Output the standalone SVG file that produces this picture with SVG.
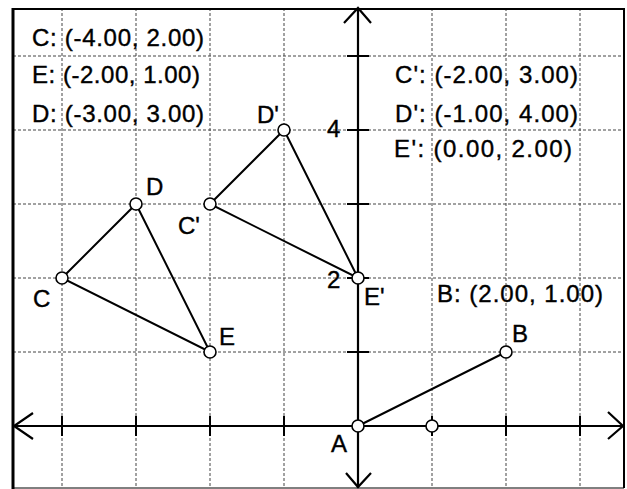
<svg xmlns="http://www.w3.org/2000/svg" width="627" height="489" viewBox="0 0 627 489">
<style>
.grid{stroke:#444;stroke-width:1;stroke-dasharray:3 2;fill:none}
.axis{stroke:#000;stroke-width:2.2;fill:none}
.tick{stroke:#000;stroke-width:2;fill:none}
.seg{stroke:#000;stroke-width:2;fill:none}
.pt{fill:#fff;stroke:#000;stroke-width:1.6}
text{font-family:"Liberation Sans",Arial,sans-serif;font-size:24px;fill:#000;stroke:#000;stroke-width:0.4}
</style>
<rect width="627" height="489" fill="#fff"/>
<g id="grid">
<path class="grid" d="M62 8V488M136 8V488M210 8V488M284 8V488M432 8V488M506 8V488M580 8V488"/>
<path class="grid" d="M13 56H624M13 130H624M13 204H624M13 278H624M13 352H624"/>
</g>
<g id="frame">
<path d="M13 9H624V488" stroke="#000" stroke-width="2" fill="none"/>
<path d="M13 488H624" stroke="#000" stroke-width="1" fill="none"/>
<path d="M13 8V489" stroke="#000" stroke-width="3" fill="none"/>
</g>
<g id="axes">
<path class="axis" d="M13 426H623M358 8V488"/>
<path class="axis" d="M33 413L14 426L33 439M608 412L623 426L608 439M344 23L358 8L371 23M346 473L358 487L371 473"/>
<path class="tick" d="M62 416V436M136 416V436M210 416V436M284 416V436M432 416V436M506 416V436M580 416V436"/>
<path class="tick" d="M347 56H369M347 130H369M347 204H369M347 278H369M347 352H369"/>
<text x="327" y="137">4</text>
<text x="327" y="288">2</text>
</g>
<g id="connectors">
<path class="seg" d="M62 278L136 204L210 352Z"/>
<path class="seg" d="M210 204L284 130L358 278Z"/>
<path class="seg" d="M358 426L506 352"/>
</g>
<g id="node-C"><circle class="pt" cx="62" cy="278" r="6"/><text x="33" y="307">C</text></g>
<g id="node-D"><circle class="pt" cx="136" cy="204" r="6"/><text x="146" y="195">D</text></g>
<g id="node-E"><circle class="pt" cx="210" cy="352" r="6"/><text x="219" y="345">E</text></g>
<g id="node-C2"><circle class="pt" cx="210" cy="204" r="6"/><text x="178" y="234">C'</text></g>
<g id="node-D2"><circle class="pt" cx="284" cy="130" r="6"/><text x="257" y="123">D'</text></g>
<g id="node-E2"><circle class="pt" cx="358" cy="278" r="6"/><text x="364" y="305">E'</text></g>
<g id="node-A"><circle class="pt" cx="358" cy="426" r="6"/><text x="331" y="452">A</text></g>
<g id="node-P"><circle class="pt" cx="432" cy="426" r="6"/></g>
<g id="node-B"><circle class="pt" cx="506" cy="352" r="6"/><text x="512" y="342">B</text></g>
<g id="labels">
<text x="32" y="46" textLength="172" lengthAdjust="spacing">C: (-4.00, 2.00)</text>
<text x="32" y="83" textLength="168" lengthAdjust="spacing">E: (-2.00, 1.00)</text>
<text x="32" y="122" textLength="172" lengthAdjust="spacing">D: (-3.00, 3.00)</text>
<text x="395" y="83" textLength="183" lengthAdjust="spacing">C': (-2.00, 3.00)</text>
<text x="395" y="122" textLength="183" lengthAdjust="spacing">D': (-1.00, 4.00)</text>
<text x="394" y="157" textLength="178" lengthAdjust="spacing">E': (0.00, 2.00)</text>
<text x="437" y="302" textLength="166" lengthAdjust="spacing">B: (2.00, 1.00)</text>
</g>
</svg>
